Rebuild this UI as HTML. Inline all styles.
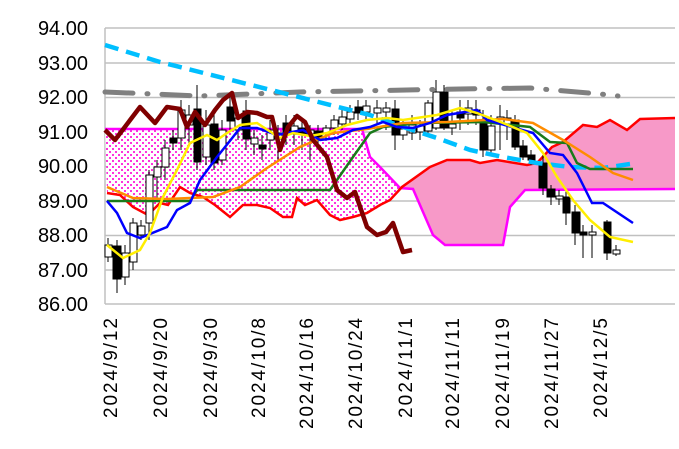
<!DOCTYPE html>
<html><head><meta charset="utf-8"><style>body{margin:0;background:#fff}svg{display:block}</style></head><body>
<svg width="679" height="449" viewBox="0 0 679 449" xmlns="http://www.w3.org/2000/svg" font-family="Liberation Sans, sans-serif">
<defs>
<pattern id="dots" width="6" height="6" patternUnits="userSpaceOnUse"><rect width="6" height="6" fill="#fff"/><rect x="1" y="1" width="2" height="2" fill="#ff33dd"/><rect x="4" y="4" width="2" height="2" fill="#ff33dd"/></pattern>
</defs>
<g stroke="#c0c0c0" stroke-width="1.5">
<line x1="105" y1="28" x2="675" y2="28"/><line x1="105" y1="63" x2="675" y2="63"/><line x1="105" y1="97.5" x2="675" y2="97.5"/><line x1="105" y1="132" x2="675" y2="132"/><line x1="105" y1="166.5" x2="675" y2="166.5"/><line x1="105" y1="201" x2="675" y2="201"/><line x1="105" y1="235.5" x2="675" y2="235.5"/><line x1="105" y1="270" x2="675" y2="270"/><line x1="105" y1="304" x2="675" y2="304"/>
<line x1="105" y1="28" x2="105" y2="304"/>
</g>
<g font-size="20" fill="#000" text-anchor="end">
<text x="88" y="35">94.00</text><text x="88" y="70">93.00</text><text x="88" y="104">92.00</text><text x="88" y="139">91.00</text><text x="88" y="173">90.00</text><text x="88" y="208">89.00</text><text x="88" y="242">88.00</text><text x="88" y="277">87.00</text><text x="88" y="311">86.00</text>
</g>
<g font-size="19" fill="#000" text-anchor="end">
<text transform="translate(117,318) rotate(-90)" textLength="100" lengthAdjust="spacing">2024/9/12</text>
<text transform="translate(167,318) rotate(-90)" textLength="100" lengthAdjust="spacing">2024/9/20</text>
<text transform="translate(217,318) rotate(-90)" textLength="100" lengthAdjust="spacing">2024/9/30</text>
<text transform="translate(265,318) rotate(-90)" textLength="100" lengthAdjust="spacing">2024/10/8</text>
<text transform="translate(313,318) rotate(-90)" textLength="111" lengthAdjust="spacing">2024/10/16</text>
<text transform="translate(362,318) rotate(-90)" textLength="111" lengthAdjust="spacing">2024/10/24</text>
<text transform="translate(412,318) rotate(-90)" textLength="100" lengthAdjust="spacing">2024/11/1</text>
<text transform="translate(459,318) rotate(-90)" textLength="111" lengthAdjust="spacing">2024/11/11</text>
<text transform="translate(509,318) rotate(-90)" textLength="111" lengthAdjust="spacing">2024/11/19</text>
<text transform="translate(558,318) rotate(-90)" textLength="111" lengthAdjust="spacing">2024/11/27</text>
<text transform="translate(607,318) rotate(-90)" textLength="100" lengthAdjust="spacing">2024/12/5</text>
</g>
<polygon fill="url(#dots)" points="105,129 362,129 370,157 380,167 400,188 402,187 390,200 370,213 380,205 367,213 353,217 340,220 330,215 317,200 305,205 297,198 292,217 283,217 270,208 257,205 243,205 230,217 215,205 203,197 190,193 180,187 168,205 160,203 148,215 133,207 120,195 107,193"/>
<polygon fill="#f799c8" points="402,187 430,167 447,160 470,160 480,163 497,160 527,165 537,163 552,147 563,142 583,125 597,127 610,120 627,130 640,119 675,118 675,189 525,190 510,207 503,245 445,245 433,235 413,189 402,188"/>
<polyline fill="none" stroke="#ff00ff" stroke-width="2.5" points="105,129 362,129 370,157 380,167 400,188 413,189 433,235 445,245 503,245 510,207 525,190 675,189"/>
<polyline fill="none" stroke="#ff0000" stroke-width="2.5" points="107,193 120,195 133,207 148,215 160,203 168,205 180,187 190,193 203,197 215,205 230,217 243,205 257,205 270,208 283,217 292,217 297,198 305,205 317,200 330,215 340,220 353,217 367,213 380,205 390,200 402,187 430,167 447,160 470,160 480,163 497,160 527,165 537,163 552,147 563,142 583,125 597,127 610,120 627,130 640,119 675,118"/>
<g stroke="#000" stroke-width="1">
<line x1="108" y1="238" x2="108" y2="262"/><rect x="105" y="245" width="7" height="12" fill="#fff"/>
<line x1="117" y1="240" x2="117" y2="293"/><rect x="113" y="246" width="8" height="33" fill="#000"/>
<line x1="125" y1="245" x2="125" y2="285"/><rect x="122" y="253" width="7" height="24" fill="#fff"/>
<line x1="133" y1="218" x2="133" y2="270"/><rect x="130" y="223" width="7" height="39" fill="#fff"/>
<line x1="141" y1="220" x2="141" y2="240"/><rect x="138" y="226" width="7" height="9" fill="#fff"/>
<line x1="149" y1="170" x2="149" y2="240"/><rect x="146" y="175" width="7" height="48" fill="#fff"/>
<line x1="157" y1="160" x2="157" y2="200"/><rect x="154" y="167" width="7" height="10" fill="#fff"/>
<line x1="165" y1="140" x2="165" y2="180"/><rect x="162" y="148" width="7" height="19" fill="#fff"/>
<line x1="173" y1="130" x2="173" y2="150"/><rect x="170" y="138" width="7" height="5" fill="#000"/>
<line x1="181" y1="100" x2="181" y2="150"/><rect x="178" y="110" width="7" height="28" fill="#fff"/>
<line x1="189" y1="105" x2="189" y2="145"/><rect x="186" y="115" width="7" height="10" fill="#fff"/>
<line x1="197" y1="85" x2="197" y2="170"/><rect x="194" y="109" width="7" height="53" fill="#000"/>
<line x1="206" y1="110" x2="206" y2="165"/><rect x="203" y="125" width="7" height="32" fill="#fff"/>
<line x1="214" y1="115" x2="214" y2="170"/><rect x="211" y="124" width="7" height="39" fill="#000"/>
<line x1="222" y1="120" x2="222" y2="165"/><rect x="219" y="130" width="7" height="30" fill="#fff"/>
<line x1="230" y1="95" x2="230" y2="130"/><rect x="227" y="107" width="7" height="14" fill="#000"/>
<line x1="238" y1="110" x2="238" y2="140"/><rect x="235" y="118" width="7" height="12" fill="#fff"/>
<line x1="246" y1="100" x2="246" y2="150"/><rect x="243" y="111" width="7" height="28" fill="#000"/>
<line x1="254" y1="130" x2="254" y2="155"/><rect x="251" y="138" width="7" height="6" fill="#fff"/>
<line x1="262" y1="135" x2="262" y2="160"/><rect x="259" y="145" width="7" height="4" fill="#000"/>
<line x1="270" y1="120" x2="270" y2="150"/><rect x="267" y="130" width="7" height="10" fill="#fff"/>
<line x1="278" y1="125" x2="278" y2="160"/><rect x="275" y="133" width="7" height="6" fill="#fff"/>
<line x1="286" y1="115" x2="286" y2="145"/><rect x="283" y="123" width="7" height="10" fill="#000"/>
<line x1="294" y1="115" x2="294" y2="145"/><rect x="291" y="126" width="7" height="8" fill="#fff"/>
<line x1="302" y1="120" x2="302" y2="150"/><rect x="299" y="128" width="7" height="6" fill="#000"/>
<line x1="310" y1="125" x2="310" y2="160"/><rect x="307" y="130" width="7" height="4" fill="#fff"/>
<line x1="318" y1="125" x2="318" y2="145"/><rect x="315" y="131" width="7" height="6" fill="#000"/>
<line x1="326" y1="125" x2="326" y2="140"/><rect x="323" y="128" width="7" height="5" fill="#fff"/>
<line x1="334" y1="115" x2="334" y2="135"/><rect x="331" y="120" width="7" height="8" fill="#fff"/>
<line x1="342" y1="110" x2="342" y2="130"/><rect x="339" y="117" width="7" height="7" fill="#fff"/>
<line x1="350" y1="105" x2="350" y2="125"/><rect x="347" y="112" width="7" height="7" fill="#fff"/>
<line x1="358" y1="100" x2="358" y2="120"/><rect x="355" y="107" width="7" height="6" fill="#000"/>
<line x1="366" y1="100" x2="366" y2="120"/><rect x="363" y="106" width="7" height="6" fill="#fff"/>
<line x1="377" y1="100" x2="377" y2="125"/><rect x="374" y="108" width="7" height="5" fill="#fff"/>
<line x1="386" y1="102" x2="386" y2="130"/><rect x="383" y="108" width="7" height="4" fill="#fff"/>
<line x1="395" y1="100" x2="395" y2="150"/><rect x="392" y="109" width="7" height="26" fill="#000"/>
<line x1="403" y1="120" x2="403" y2="140"/><rect x="400" y="129" width="7" height="6" fill="#fff"/>
<line x1="412" y1="115" x2="412" y2="140"/><rect x="409" y="125" width="7" height="8" fill="#fff"/>
<line x1="420" y1="120" x2="420" y2="140"/><rect x="417" y="126" width="7" height="6" fill="#fff"/>
<line x1="428" y1="100" x2="428" y2="135"/><rect x="425" y="103" width="7" height="28" fill="#fff"/>
<line x1="436" y1="80" x2="436" y2="130"/><rect x="433" y="92" width="7" height="36" fill="#fff"/>
<line x1="444" y1="85" x2="444" y2="130"/><rect x="441" y="92" width="7" height="36" fill="#000"/>
<line x1="452" y1="110" x2="452" y2="135"/><rect x="449" y="124" width="7" height="4" fill="#fff"/>
<line x1="460" y1="100" x2="460" y2="130"/><rect x="457" y="112" width="7" height="6" fill="#000"/>
<line x1="468" y1="100" x2="468" y2="125"/><rect x="465" y="108" width="7" height="6" fill="#fff"/>
<line x1="476" y1="100" x2="476" y2="125"/><rect x="473" y="110" width="7" height="5" fill="#000"/>
<line x1="483" y1="110" x2="483" y2="157"/><rect x="480" y="123" width="7" height="27" fill="#000"/>
<line x1="491" y1="115" x2="491" y2="155"/><rect x="488" y="126" width="7" height="24" fill="#fff"/>
<line x1="500" y1="105" x2="500" y2="150"/><rect x="497" y="117" width="7" height="7" fill="#fff"/>
<line x1="507" y1="110" x2="507" y2="140"/><rect x="504" y="118" width="7" height="6" fill="#fff"/>
<line x1="515" y1="115" x2="515" y2="150"/><rect x="512" y="120" width="7" height="27" fill="#000"/>
<line x1="523" y1="140" x2="523" y2="160"/><rect x="520" y="146" width="7" height="11" fill="#000"/>
<line x1="531" y1="150" x2="531" y2="165"/><rect x="528" y="155" width="7" height="5" fill="#000"/>
<line x1="543" y1="155" x2="543" y2="195"/><rect x="539" y="163" width="8" height="25" fill="#000"/>
<line x1="551" y1="185" x2="551" y2="205"/><rect x="547" y="189" width="8" height="8" fill="#000"/>
<line x1="559" y1="190" x2="559" y2="205"/><rect x="556" y="196" width="7" height="3" fill="#fff"/>
<line x1="566" y1="190" x2="566" y2="225"/><rect x="563" y="197" width="7" height="16" fill="#000"/>
<line x1="575" y1="205" x2="575" y2="245"/><rect x="572" y="212" width="8" height="21" fill="#000"/>
<line x1="583" y1="225" x2="583" y2="258"/><rect x="580" y="232" width="7" height="3" fill="#000"/>
<line x1="592" y1="225" x2="592" y2="258"/><rect x="589" y="232" width="7" height="3" fill="#fff"/>
<line x1="607" y1="220" x2="607" y2="260"/><rect x="604" y="222" width="7" height="31" fill="#000"/>
<line x1="616" y1="245" x2="616" y2="256"/><rect x="613" y="250" width="7" height="4" fill="#fff"/>
</g>
<polyline fill="none" stroke="#808080" stroke-width="5" stroke-linecap="round" stroke-dasharray="28,14,1,14" points="105,92 200,96 300,92 460,89 530,88 600,94 618,96"/>
<polyline fill="none" stroke="#00bfff" stroke-width="4.5" stroke-dasharray="14,8" points="105,45 160,62 370,115 403,127 437,138 470,150 503,157 537,163 570,167 603,168 630,164"/>
<polyline fill="none" stroke="#1a7a1a" stroke-width="2.5" points="107,201 190,201 197,190 330,190 353,157 370,133 383,127 420,123 483,122 530,127 550,142 567,143 577,163 590,169 633,169"/>
<polyline fill="none" stroke="#ff8c00" stroke-width="2.5" points="107,187 133,198 167,199 213,197 240,187 267,168 300,147 333,133 367,129 403,123 447,122 503,119 533,123 563,140 590,157 613,173 633,180"/>
<polyline fill="none" stroke="#0000ff" stroke-width="2.5" points="107,201 117,213 127,233 140,238 167,227 177,210 190,203 200,180 217,157 233,137 240,128 257,128 277,135 287,133 303,130 320,140 337,138 353,130 370,127 383,122 397,127 413,128 430,123 447,115 477,110 487,120 533,133 550,153 563,155 577,173 592,203 603,203 633,223"/>
<polyline fill="none" stroke="#ffee00" stroke-width="2.5" points="107,245 123,258 140,250 150,233 163,197 177,170 190,143 207,135 217,140 227,133 240,125 257,123 280,138 293,133 310,136 327,133 347,125 367,120 387,118 403,120 437,115 460,108 477,113 503,123 527,133 543,153 557,177 573,200 590,220 610,237 633,242"/>
<polyline fill="none" stroke="#7f0000" stroke-width="4.5" stroke-linejoin="round" points="105,130 115,140 140,107 155,123 167,107 180,109 187,127 195,112 205,125 215,110 223,100 232,93 238,118 247,112 257,113 267,117 272,117 280,150 288,127 297,116 305,122 313,140 327,157 337,190 347,198 355,192 367,227 377,235 386,232 393,223 403,252 412,250"/>
</svg>
</body></html>
